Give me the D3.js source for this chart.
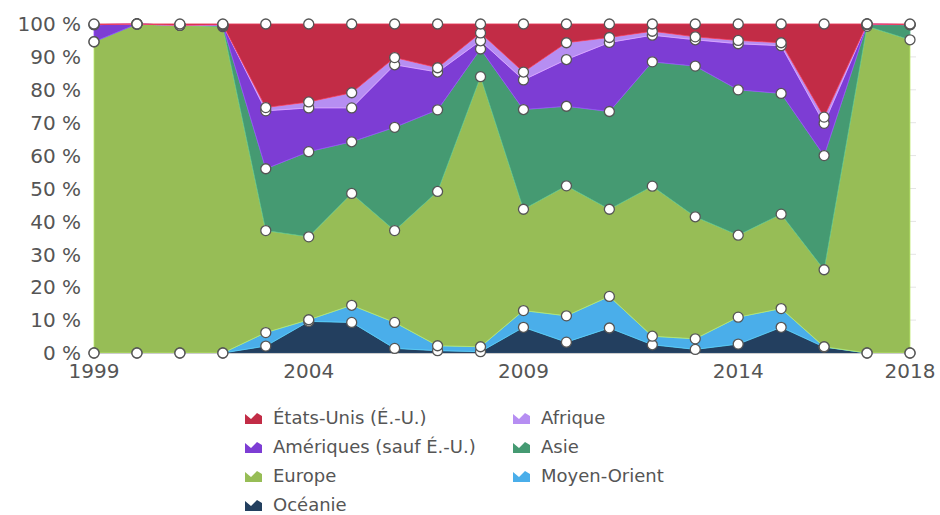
<!DOCTYPE html>
<html>
<head>
<meta charset="utf-8">
<script src="https://cdn.jsdelivr.net/npm/d3@7"></script>
<style>
body { margin: 0; background: #fff; }
svg { font-family: "DejaVu Sans", Verdana, sans-serif; }
</style>
</head>
<body>
<svg id="chart" width="940" height="515"></svg>
<script>
// years on the x axis
var years = d3.range(1999, 2019)

// shares in %, per region (bottom of stack first)
var oceanie     = [0, 0, 0, 0, 2.1, 9.6, 9.3, 1.4, 0.7, 0.4, 7.8, 3.3, 7.6, 2.5, 1.1, 2.7, 7.8, 1.8, 0, 0]
var moyenOrient = [0, 0, 0, 0, 4.1, 0.5, 5.2, 7.9, 1.5, 1.5, 5.1, 8.0, 9.6, 2.6, 3.2, 8.2, 5.7, 0.1, 0, 0]
var europe      = [94.6, 100, 99.6, 99.2, 31.0, 25.2, 34.0, 27.9, 46.9, 82.1, 30.8, 39.5, 26.5, 45.6, 37.1, 24.9, 28.7, 23.4, 99.3, 95.2]
var asie        = [0, 0, 0, 0.3, 18.8, 25.9, 15.7, 31.4, 24.8, 8.4, 30.3, 24.2, 29.7, 37.8, 45.8, 44.2, 36.7, 34.7, 0.5, 4.6]
var ameriques   = [5.2, 0, 0, 0.3, 17.6, 13.3, 10.3, 19.0, 11.5, 2.5, 9.0, 14.2, 21.0, 8.1, 8.0, 14.0, 14.5, 9.8, 0.2, 0]
var afrique     = [0, 0, 0, 0, 1.0, 1.8, 4.6, 2.2, 1.3, 2.4, 2.4, 5.1, 1.5, 1.2, 0.9, 1.0, 0.9, 1.9, 0, 0]
var etatsUnis   = [0.2, 0, 0.4, 0.2, 25.4, 23.7, 20.9, 10.2, 13.3, 2.7, 14.6, 5.7, 4.1, 2.2, 3.9, 5.0, 5.7, 28.3, 0, 0.2]

var series = [
    {key: "oceanie", name: "Océanie", values: oceanie, color: "#233f5f"},
    {key: "moyenOrient", name: "Moyen-Orient", values: moyenOrient, color: "#4aaeea"},
    {key: "europe", name: "Europe", values: europe, color: "#97bd56"},
    {key: "asie", name: "Asie", values: asie, color: "#459a72"},
    {key: "ameriques", name: "Amériques (sauf É.-U.)", values: ameriques, color: "#7d3dd4"},
    {key: "afrique", name: "Afrique", values: afrique, color: "#b68ef2"},
    {key: "etatsUnis", name: "États-Unis (É.-U.)", values: etatsUnis, color: "#c22c46"}
]

var yTicks = [0, 10, 20, 30, 40, 50, 60, 70, 80, 90, 100]
var xTicks = [1999, 2004, 2009, 2014, 2018]

// legend order (two columns, row by row)
var legendOrder = ["etatsUnis", "afrique", "ameriques", "asie", "europe", "moyenOrient", "oceanie"]

var svg = d3.select("#chart")
var margin = {left: 94, right: 30, top: 24, bottom: 162}
var width = 940 - margin.left - margin.right,
    height = 515 - margin.top - margin.bottom

var rows = years.map((yr, i) => {
    var r = {year: yr}
    var total = d3.sum(series, s => s.values[i])
    series.forEach(s => { r[s.key] = s.values[i] / total * 100 })
    return r
})

var stack = d3.stack().keys(series.map(s => s.key))
var stacked = stack(rows)

var x = d3.scaleLinear().domain([1999, 2018]).range([margin.left, margin.left + width])
var y = d3.scaleLinear().domain([0, 100]).range([margin.top + height, margin.top])

// light grid
svg.append("g")
    .selectAll("line")
    .data(yTicks)
    .enter()
    .append("line")
    .attr("x1", margin.left)
    .attr("x2", margin.left + width + 6)
    .attr("y1", d => y(d))
    .attr("y2", d => y(d))
    .attr("stroke", "#e4e4e4")
    .attr("stroke-width", 1)

var area = d3.area()
    .x(d => x(d.data.year))
    .y0(d => y(d[0]))
    .y1(d => y(d[1]))

svg.append("g")
    .selectAll("path")
    .data(stacked)
    .enter()
    .append("path")
    .attr("d", area)
    .attr("fill", (d, i) => series[i].color)
    .attr("stroke", (d, i) => d3.color(series[i].color).brighter(0.6))
    .attr("stroke-width", 0.8)

// x axis baseline
svg.append("line")
    .attr("x1", margin.left)
    .attr("x2", margin.left + width)
    .attr("y1", y(0) + 0.5)
    .attr("y2", y(0) + 0.5)
    .attr("stroke", "#ccc")

// markers on top of every layer
stacked.forEach(layer => {
    svg.append("g")
        .selectAll("circle")
        .data(layer)
        .enter()
        .append("circle")
        .attr("cx", d => x(d.data.year))
        .attr("cy", d => y(d[1]))
        .attr("r", 5)
        .attr("fill", "#fff")
        .attr("stroke", "#555")
        .attr("stroke-width", 1.3)
})

// y axis labels
svg.append("g")
    .selectAll("text")
    .data(yTicks)
    .enter()
    .append("text")
    .attr("x", 81)
    .attr("y", d => y(d))
    .attr("dy", "0.36em")
    .attr("text-anchor", "end")
    .attr("fill", "#555")
    .attr("font-size", 20)
    .text(d => d + " %")

// x axis labels
svg.append("g")
    .selectAll("text")
    .data(xTicks)
    .enter()
    .append("text")
    .attr("x", d => x(d))
    .attr("y", y(0) + 25)
    .attr("text-anchor", "middle")
    .attr("fill", "#555")
    .attr("font-size", 20)
    .text(d => d)

// legend
var legend = svg.append("g")
legendOrder.forEach((k, i) => {
    var s = series.find(d => d.key === k)
    var col = i % 2, row = Math.floor(i / 2)
    var lx = col === 0 ? 245 : 513
    var ly = 418 + row * 29
    var g = legend.append("g").attr("transform", "translate(" + lx + "," + ly + ")")
    g.append("path")
        .attr("d", "M0,6 L0,-4 L6,1 L12,-5 L17,-2 L17,6 Z")
        .attr("fill", s.color)
    g.append("text")
        .attr("x", 28)
        .attr("y", 0)
        .attr("dy", "0.35em")
        .attr("fill", "#555")
        .attr("font-size", 18)
        .text(s.name)
})
</script>
</body>
</html>
